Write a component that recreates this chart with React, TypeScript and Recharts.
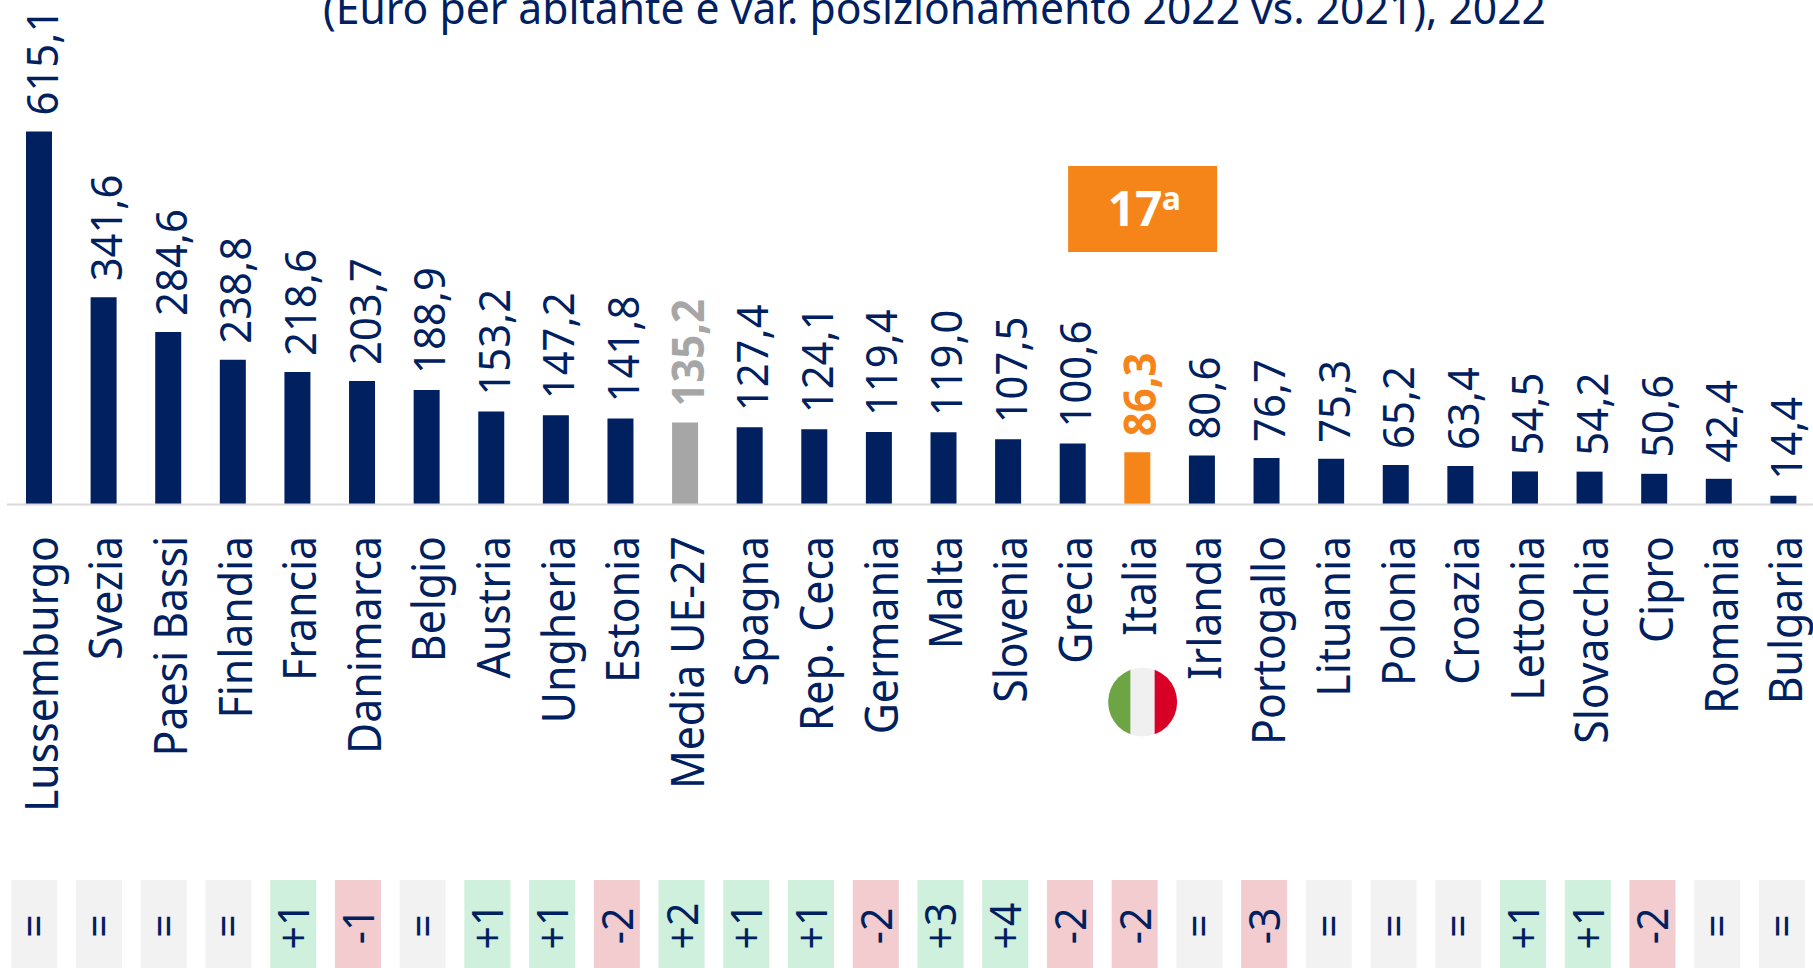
import React from "react";
import { BarChart, Bar, Cell, XAxis, YAxis, LabelList } from "recharts";

const countries = [
  "Lussemburgo", "Svezia", "Paesi Bassi", "Finlandia", "Francia", "Danimarca", "Belgio",
  "Austria", "Ungheria", "Estonia", "Media UE-27", "Spagna", "Rep. Ceca", "Germania",
  "Malta", "Slovenia", "Grecia", "Italia", "Irlanda", "Portogallo", "Lituania", "Polonia",
  "Croazia", "Lettonia", "Slovacchia", "Cipro", "Romania", "Bulgaria",
];
const values = [
  615.1, 341.6, 284.6, 238.8, 218.6, 203.7, 188.9, 153.2, 147.2, 141.8, 135.2, 127.4, 124.1, 119.4,
  119.0, 107.5, 100.6, 86.3, 80.6, 76.7, 75.3, 65.2, 63.4, 54.5, 54.2, 50.6, 42.4, 14.4,
];
const rankChanges = [
  "=", "=", "=", "=", "+1", "-1", "=", "+1", "+1", "-2", "+2", "+1", "+1", "-2",
  "+3", "+4", "-2", "-2", "=", "-3", "=", "=", "=", "+1", "+1", "-2", "=", "=",
];

const data = countries.map((name, i) => ({ name, value: values[i], rank: rankChanges[i] }));

const NAVY = "#002060";
const ORANGE = "#F58519";
const GREY = "#A6A6A6";
const FONT = "'Noto Sans', sans-serif";

const barColor = (name: string) => {
  if (name === "Italia") return ORANGE;
  if (name === "Media UE-27") return GREY;
  return NAVY;
};

const bandColor = (rank: string) => {
  if (rank.startsWith("+")) return "#CEF0DC";
  if (rank.startsWith("-")) return "#F2CCCE";
  return "#F2F2F2";
};

const ItalyExtras: React.FC<{ x: number }> = ({ x }) => {
  const cx = x + 5;
  return (
    <g>
      <rect x={cx - 74.5} y={166} width={149} height={86} fill={ORANGE} />
      <text x={cx - 35} y={226} fontFamily={FONT} fontSize={48} fontWeight={700} fill="#fff">
        17
      </text>
      <text x={cx + 19} y={210} fontFamily={FONT} fontSize={32} fontWeight={700} fill="#fff">
        a
      </text>
      <clipPath id="flag-clip">
        <circle cx={cx} cy={702} r={34.5} />
      </clipPath>
      <g clipPath="url(#flag-clip)">
        <rect x={cx - 35} y={667} width={23} height={70} fill="#6DA544" />
        <rect x={cx - 12} y={667} width={24} height={70} fill="#F0F0F0" />
        <rect x={cx + 12} y={667} width={23} height={70} fill="#D80027" />
      </g>
    </g>
  );
};

const CountryTick: React.FC<any> = ({ x, payload, index }) => {
  const rank = rankChanges[index];
  // the boxes in the source run on a slightly wider pitch than the bars
  const bandX = x - 28 + index * 0.12;
  return (
    <g>
      <text
        transform={`translate(${x + 18.5},536) rotate(-90) scale(0.93,1)`}
        textAnchor="end"
        fontFamily={FONT}
        fontSize={46}
        fill={NAVY}
      >
        {payload.value}
      </text>
      <rect x={bandX} y={880} width={46} height={88} fill={bandColor(rank)} />
      <text
        transform={`translate(${bandX + 39},926) rotate(-90) scale(0.93,1)`}
        textAnchor="middle"
        fontFamily={FONT}
        fontSize={44}
        fill={NAVY}
      >
        {rank}
      </text>
      {payload.value === "Italia" && <ItalyExtras x={x} />}
    </g>
  );
};

const ValueLabel: React.FC<any> = ({ x, y, width, value, index }) => {
  const name = countries[index];
  const highlighted = name === "Italia" || name === "Media UE-27";
  return (
    <text
      transform={`translate(${x + width / 2 + 18.5},${y - 16}) rotate(-90) scale(0.95,1)`}
      fontFamily={FONT}
      fontSize={44}
      fontWeight={highlighted ? 700 : 400}
      fill={barColor(name)}
    >
      {Number(value).toFixed(1).replace(".", ",")}
    </text>
  );
};

const App: React.FC = () => {
  return (
    <div
      style={{
        position: "absolute",
        left: 0,
        top: 0,
        width: 1813,
        height: 968,
        overflow: "hidden",
        background: "#fff",
      }}
    >
      <BarChart
        width={1816}
        height={968}
        data={data}
        margin={{ top: 131.5, right: 0, bottom: 0, left: 7 }}
      >
        <text
          x={934.5}
          y={24}
          textAnchor="middle"
          textLength={1223}
          lengthAdjust="spacingAndGlyphs"
          fontFamily={FONT}
          fontSize={44}
          fill={NAVY}
        >
          (Euro per abitante e var. posizionamento 2022 vs. 2021), 2022
        </text>
        <XAxis
          dataKey="name"
          interval={0}
          height={463.5}
          tickLine={false}
          axisLine={{ stroke: "#D9D9D9", strokeWidth: 2 }}
          tick={<CountryTick />}
        />
        <YAxis hide domain={[0, 615.1]} />
        <Bar dataKey="value" barSize={26} isAnimationActive={false}>
          {data.map((d) => (
            <Cell key={d.name} fill={barColor(d.name)} />
          ))}
          <LabelList dataKey="value" content={<ValueLabel />} />
        </Bar>
      </BarChart>
    </div>
  );
};

export default App;
